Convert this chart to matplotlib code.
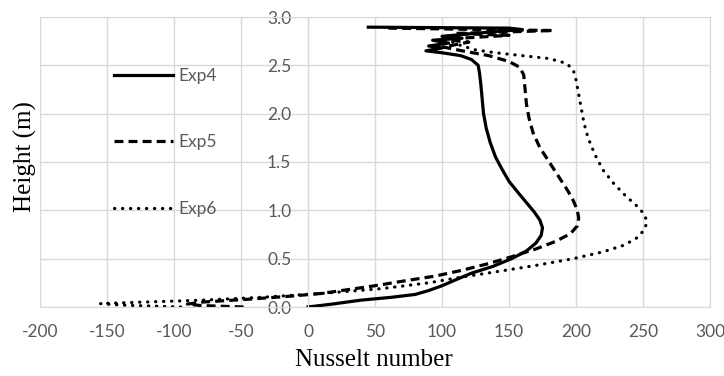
import matplotlib
matplotlib.use('Agg')
from matplotlib import pyplot as plt

plt.rcParams['axes.unicode_minus'] = False

# Nusselt number vs height
exp4_nu = [0, 18, 39, 62, 80, 90, 100, 110, 122, 138, 152, 163, 170, 174,
           175, 173, 169, 163, 157, 150, 145, 140, 136, 133, 131, 130, 129,
           128, 127, 122, 114, 100, 88, 100, 90, 105, 93, 115, 100, 140, 160,
           150, 45]
exp4_h = [0.0, 0.03, 0.07, 0.10, 0.13, 0.17, 0.22, 0.28, 0.35, 0.42, 0.50,
          0.58, 0.66, 0.74, 0.82, 0.90, 0.98, 1.08, 1.18, 1.30, 1.42, 1.55,
          1.70, 1.85, 2.00, 2.15, 2.30, 2.42, 2.50, 2.56, 2.60, 2.63, 2.65,
          2.68, 2.70, 2.73, 2.76, 2.78, 2.80, 2.85, 2.87, 2.885, 2.895]

exp5_nu = [-48, -80, -90, -80, -45, -15, 10, 30, 50, 72, 95, 115, 135, 152,
           170, 185, 196, 201, 202, 201, 198, 194, 187, 180, 173, 168, 165,
           163, 162, 161, 158, 150, 135, 115, 101, 120, 100, 150, 110, 183, 60]
exp5_h = [0.0, 0.015, 0.03, 0.05, 0.08, 0.11, 0.14, 0.18, 0.22, 0.27, 0.32,
          0.38, 0.45, 0.52, 0.60, 0.68, 0.76, 0.84, 0.92, 1.00, 1.10, 1.20,
          1.35, 1.50, 1.65, 1.80, 1.95, 2.10, 2.25, 2.40, 2.48, 2.54, 2.60,
          2.65, 2.69, 2.74, 2.77, 2.81, 2.83, 2.86, 2.885]

exp6_nu = [-95, -140, -155, -125, -80, -35, 10, 55, 90, 115, 143, 170, 198,
           220, 236, 246, 251, 253, 251, 245, 237, 228, 220, 214, 209, 206,
           204, 202, 200, 198, 193, 180, 160, 140, 125, 115, 108]
exp6_h = [0.0, 0.02, 0.035, 0.05, 0.07, 0.10, 0.14, 0.19, 0.25, 0.31, 0.37,
          0.43, 0.50, 0.57, 0.64, 0.72, 0.80, 0.88, 0.96, 1.05, 1.15, 1.28,
          1.42, 1.58, 1.75, 1.90, 2.05, 2.20, 2.35, 2.45, 2.52, 2.57, 2.60,
          2.63, 2.66, 2.70, 2.74]

x_ticks = [-200, -150, -100, -50, 0, 50, 100, 150, 200, 250, 300]
y_ticks = [0.0, 0.5, 1.0, 1.5, 2.0, 2.5, 3.0]

grey = '#d9d9d9'
tick_col = '#595959'

fig = plt.figure(figsize=(7.24, 3.76), dpi=100)
ax = fig.add_axes([40 / 724, 1 - 307 / 376, 670 / 724, 290 / 376])

ax.plot(exp4_nu, exp4_h, color='black', lw=2.3, label='Exp4',
        solid_joinstyle='round')
ax.plot(exp5_nu, exp5_h, color='black', lw=2.3, linestyle=(0, (2.8, 1.6)),
        label='Exp5')
ax.plot(exp6_nu, exp6_h, color='black', lw=2.3, linestyle=(0, (0.1, 2.4)),
        dash_capstyle='round', label='Exp6')

ax.set_xlim(-200, 300)
ax.set_ylim(0, 3)
ax.set_xticks(x_ticks)
ax.set_yticks(y_ticks)
ax.set_yticklabels(['{:.1f}'.format(v) for v in y_ticks])
ax.grid(color=grey, lw=1)
ax.set_axisbelow(True)
for s in ax.spines.values():
    s.set_color(grey)
ax.spines['left'].set_position(('data', 0))

ax.tick_params(length=0, labelsize=12.5, labelcolor=tick_col)
ax.tick_params(axis='y', pad=12)
ax.tick_params(axis='x', pad=12)
for lab in ax.get_xticklabels() + ax.get_yticklabels():
    lab.set_fontfamily('Lato')

fig.text(25 / 724, 1 - 157 / 376, 'Height (m)', rotation=90, ha='center',
         va='center', family='Liberation Serif', fontsize=18)
fig.text(374 / 724, 1 - 360 / 376, 'Nusselt number', ha='center',
         va='center', family='Liberation Serif', fontsize=18)

leg = ax.legend(loc='upper left', bbox_to_anchor=(114 / 724, 1 - 68 / 376),
                bbox_transform=fig.transFigure, frameon=False, borderpad=0,
                borderaxespad=0, handlelength=3.4, handletextpad=0.3,
                labelspacing=2.9, prop={'family': 'Lato', 'size': 12.5})
for t in leg.get_texts():
    t.set_color(tick_col)

fig.savefig('out.png', dpi=100)
